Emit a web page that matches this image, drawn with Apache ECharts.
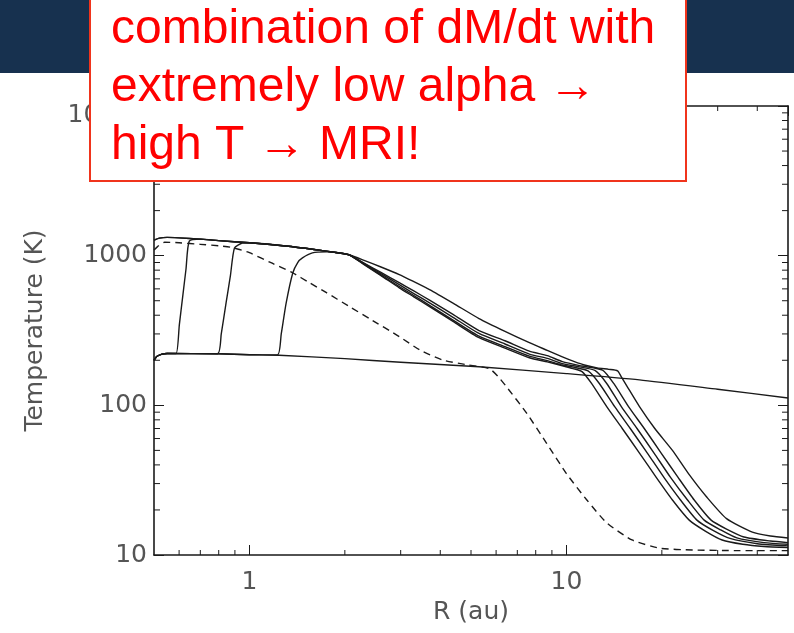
<!DOCTYPE html>
<html>
<head>
<meta charset="utf-8">
<title>Temperature profile</title>
<script src="https://cdn.jsdelivr.net/npm/echarts/dist/echarts.min.js"></script>
<style>
  html, body { margin: 0; padding: 0; background: #fff; }
  #mychart { width: 794px; height: 633px; }
</style>
</head>
<body>
<div id="mychart"></div>
<script>
  // axis ranges + labelled ticks
  const xRange = [0.5, 50];
  const yRange = [10, 10000];
  const xTickLabels = [1, 10];
  const yTickLabels = [10, 100, 1000, 10000];
  const xMinorTicks = [0.6, 0.7, 0.8, 0.9, 2, 3, 4, 5, 6, 7, 8, 9, 20, 30, 40];
  const yMinorTicks = [20, 30, 40, 50, 60, 70, 80, 90, 200, 300, 400, 500, 600, 700, 800, 900,
    2000, 3000, 4000, 5000, 6000, 7000, 8000, 9000];

  // curves: [R (au), T (K)]
  const flatLine = [[0.5, 200], [0.51, 212], [0.53, 220], [0.55, 222], [0.8, 221], [1.0, 218], [1.24, 216],
    [2.0, 205], [3.0, 194], [5.3, 181], [10, 163], [17, 148], [30, 128], [50, 112]];

  const curve1 = [[0.5, 200], [0.51, 212], [0.53, 220], [0.55, 222], [0.8, 221], [1.0, 218], [1.226, 217],
    [1.26, 300], [1.306, 483], [1.37, 766], [1.42, 900], [1.47, 966], [1.58, 1043], [1.75, 1060], [1.9, 1045],
    [2.07, 1010], [2.3, 871], [2.6, 736], [2.97, 610], [3.3, 531], [3.7, 456], [4.4, 362], [5.3, 283],
    [6.4, 241], [7.64, 208], [8.7, 195], [9.71, 184], [10.5, 176], [11.2, 168], [12.0, 140], [13.4, 98],
    [15.0, 70], [17.0, 48], [19.2, 33], [21.6, 23.3], [24.4, 17.1], [27.5, 14.4], [31, 12.6], [36, 11.8],
    [42, 11.4], [50, 11.2]];

  const curve2 = [[0.5, 200], [0.51, 212], [0.53, 220], [0.55, 222], [0.793, 221], [0.815, 300], [0.844, 483],
    [0.871, 735], [0.897, 1125], [0.95, 1215], [1.0, 1220], [1.3, 1160], [1.6, 1100], [1.9, 1045],
    [2.07, 1010], [2.3, 877], [2.6, 744], [2.97, 622], [3.3, 542], [3.7, 466], [4.4, 370], [5.3, 290],
    [6.4, 247], [7.64, 213], [8.7, 199], [9.71, 186], [10.5, 180], [11.7, 170], [12.7, 140], [14.2, 98],
    [15.9, 70], [18.0, 48], [20.3, 33], [22.9, 23.3], [25.8, 17.1], [29, 14.6], [32.8, 12.9], [40, 11.9],
    [50, 11.5]];

  const curve3 = [[0.5, 200], [0.51, 212], [0.53, 220], [0.55, 222], [0.587, 222], [0.601, 345], [0.616, 535],
    [0.631, 818], [0.646, 1250], [0.7, 1290], [0.8, 1260], [1.0, 1220], [1.3, 1160], [1.6, 1100], [1.9, 1045],
    [2.07, 1010], [2.3, 884], [2.6, 758], [2.97, 640], [3.3, 558], [3.7, 484], [4.4, 386], [5.3, 302],
    [6.4, 257], [7.64, 220], [8.7, 206], [9.71, 190], [10.8, 182], [12.3, 171], [13.4, 140], [14.9, 98],
    [16.7, 70], [18.9, 48], [21.3, 33], [24.1, 23.3], [27.2, 17.1], [30.5, 14.8], [34.5, 13.0], [42, 12.1],
    [50, 11.8]];

  const curve4 = [[0.5, 1270], [0.52, 1310], [0.55, 1325], [0.6, 1315], [0.7, 1290], [0.8, 1260], [1.0, 1220],
    [1.3, 1160], [1.6, 1100], [1.9, 1045], [2.07, 1010], [2.3, 892], [2.6, 772], [2.97, 660], [3.3, 581],
    [3.7, 505], [4.4, 404], [5.3, 316], [6.4, 270], [7.64, 230], [8.7, 215], [9.71, 196], [11.2, 183],
    [13.0, 172], [14.1, 140], [15.7, 98], [17.6, 70], [19.9, 48], [22.5, 33], [25.3, 23.3], [28.6, 17.1],
    [32, 14.9], [36.3, 13.2], [44, 12.4], [50, 12.1]];

  const curve5 = [[0.5, 1270], [0.52, 1310], [0.55, 1325], [0.6, 1315], [0.7, 1290], [0.8, 1260], [1.0, 1220],
    [1.3, 1160], [1.6, 1100], [1.9, 1045], [2.07, 1010], [2.3, 930], [2.6, 840], [2.97, 747], [3.3, 670],
    [3.7, 593], [4.4, 480], [5.3, 380], [6.4, 312], [7.64, 262], [8.7, 233], [9.71, 211], [10.6, 196],
    [11.4, 186], [12.5, 178], [13.6, 174], [14.5, 170], [14.9, 155], [15.5, 135], [17.0, 98], [19.0, 70],
    [21.6, 50], [24.5, 34], [27.7, 24.4], [32, 17.5], [38.6, 14.2], [44, 13.4], [50, 13.0]];

  const dashedLine = [[0.5, 1090], [0.513, 1150], [0.54, 1230], [0.6, 1220], [0.7, 1190], [0.8, 1165],
    [0.87, 1140], [0.93, 1100], [1.0, 1047], [1.18, 890], [1.366, 769], [1.55, 658], [1.75, 566],
    [2.05, 462], [2.4, 378], [2.97, 288], [3.44, 235], [4.06, 201], [4.84, 187], [5.71, 176], [6.1, 155],
    [6.47, 133], [7.48, 89], [8.65, 56], [10, 35], [11.6, 23.3], [13.4, 16.4], [16.1, 12.6], [19.7, 11.1],
    [25, 10.8], [35, 10.7], [50, 10.7]];

  const boxLines = ['combination of dM/dt with', 'extremely low alpha \u2192', 'high T \u2192 MRI!'];

  const FONT = 'DejaVu Sans';
  const INK = '#1a1a1a';

  function isLabelled(v, list) {
    return list.some(t => Math.abs(v - t) / t < 1e-6);
  }

  function line(data, dashed) {
    return {
      type: 'line',
      data: data,
      showSymbol: false,
      symbol: 'none',
      smooth: 0.2,
      lineStyle: { color: INK, width: 1.4, type: dashed ? [7, 5] : 'solid', join: 'round' },
      z: 3,
    };
  }

  // short minor ticks on all four sides of the box
  function minorX(params, api) {
    const b = api.coord([api.value(0), yRange[0]]);
    const t = api.coord([api.value(0), yRange[1]]);
    return {
      type: 'group',
      children: [
        { type: 'line', shape: { x1: b[0], y1: b[1], x2: b[0], y2: b[1] - 5 }, style: { stroke: INK, lineWidth: 1 } },
        { type: 'line', shape: { x1: t[0], y1: t[1], x2: t[0], y2: t[1] + 5 }, style: { stroke: INK, lineWidth: 1 } },
      ],
    };
  }
  function minorY(params, api) {
    const l = api.coord([xRange[0], api.value(1)]);
    const r = api.coord([xRange[1], api.value(1)]);
    return {
      type: 'group',
      children: [
        { type: 'line', shape: { x1: l[0], y1: l[1], x2: l[0] + 6, y2: l[1] }, style: { stroke: INK, lineWidth: 1 } },
        { type: 'line', shape: { x1: r[0], y1: r[1], x2: r[0] - 6, y2: r[1] }, style: { stroke: INK, lineWidth: 1 } },
      ],
    };
  }

  const axisBase = {
    type: 'log',
    axisLine: { show: true, onZero: false, lineStyle: { color: INK, width: 1.6 } },
    axisTick: { show: true, inside: true, length: 10, lineStyle: { color: INK, width: 1 } },
    splitLine: { show: false },
  };

  const opt = {
    animation: false,
    backgroundColor: '#fff',
    grid: { left: 154, right: 6, top: 106, bottom: 78 },
    xAxis: [
      Object.assign({}, axisBase, {
        min: xRange[0], max: xRange[1], position: 'bottom',
        name: 'R (au)', nameLocation: 'middle', nameGap: 42,
        nameTextStyle: { color: '#555', fontFamily: FONT, fontSize: 25 },
        axisLabel: {
          margin: 15, color: '#555', fontFamily: FONT, fontSize: 25,
          showMinLabel: false, showMaxLabel: false,
          formatter: v => isLabelled(v, xTickLabels) ? String(Math.round(v)) : '',
        },
      }),
      Object.assign({}, axisBase, {
        min: xRange[0], max: xRange[1], position: 'top', axisLabel: { show: false },
      }),
    ],
    yAxis: [
      Object.assign({}, axisBase, {
        min: yRange[0], max: yRange[1], interval: 1, position: 'left',
        name: 'Temperature (K)', nameLocation: 'middle', nameGap: 106,
        nameTextStyle: { color: '#555', fontFamily: FONT, fontSize: 25 },
        axisLabel: {
          margin: 7, color: '#555', fontFamily: FONT, fontSize: 25,
          formatter: v => {
            if (!isLabelled(v, yTickLabels)) return '';
            // top label sits a little below its tick in the original
            return v > 5000 ? '{low|' + Math.round(v) + '}' : String(Math.round(v));
          },
          rich: { low: { color: '#555', fontFamily: FONT, fontSize: 25, padding: [18, 0, 0, 0] } },
        },
      }),
      Object.assign({}, axisBase, {
        min: yRange[0], max: yRange[1], interval: 1, position: 'right', axisLabel: { show: false },
      }),
    ],
    series: [
      line(flatLine, false),
      line(curve1, false),
      line(curve2, false),
      line(curve3, false),
      line(curve4, false),
      line(curve5, false),
      line(dashedLine, true),
      { type: 'custom', renderItem: minorX, data: xMinorTicks.map(v => [v, yRange[0]]), silent: true, z: 4 },
      { type: 'custom', renderItem: minorY, data: yMinorTicks.map(v => [xRange[0], v]), silent: true, z: 4 },
    ],
    graphic: [
      { type: 'rect', left: 0, top: 0, z: 50, shape: { width: 794, height: 73 }, style: { fill: '#17314f' } },
      { type: 'rect', z: 60, shape: { x: 90, y: -6, width: 596, height: 187 },
        style: { fill: '#fff', stroke: '#f0341c', lineWidth: 2 } },
      { type: 'text', z: 61, x: 111, y: 1,
        style: {
          text: boxLines.join('\n'), fill: '#ff0000',
          font: '48px "Liberation Sans", Arial, sans-serif', lineHeight: 58,
          verticalAlign: 'top', align: 'left',
        } },
    ],
  };

  const myChart = echarts.init(document.getElementById('mychart'), null, { renderer: 'canvas' });
  myChart.setOption(opt);
  window.addEventListener('resize', () => myChart.resize());
</script>
</body>
</html>
